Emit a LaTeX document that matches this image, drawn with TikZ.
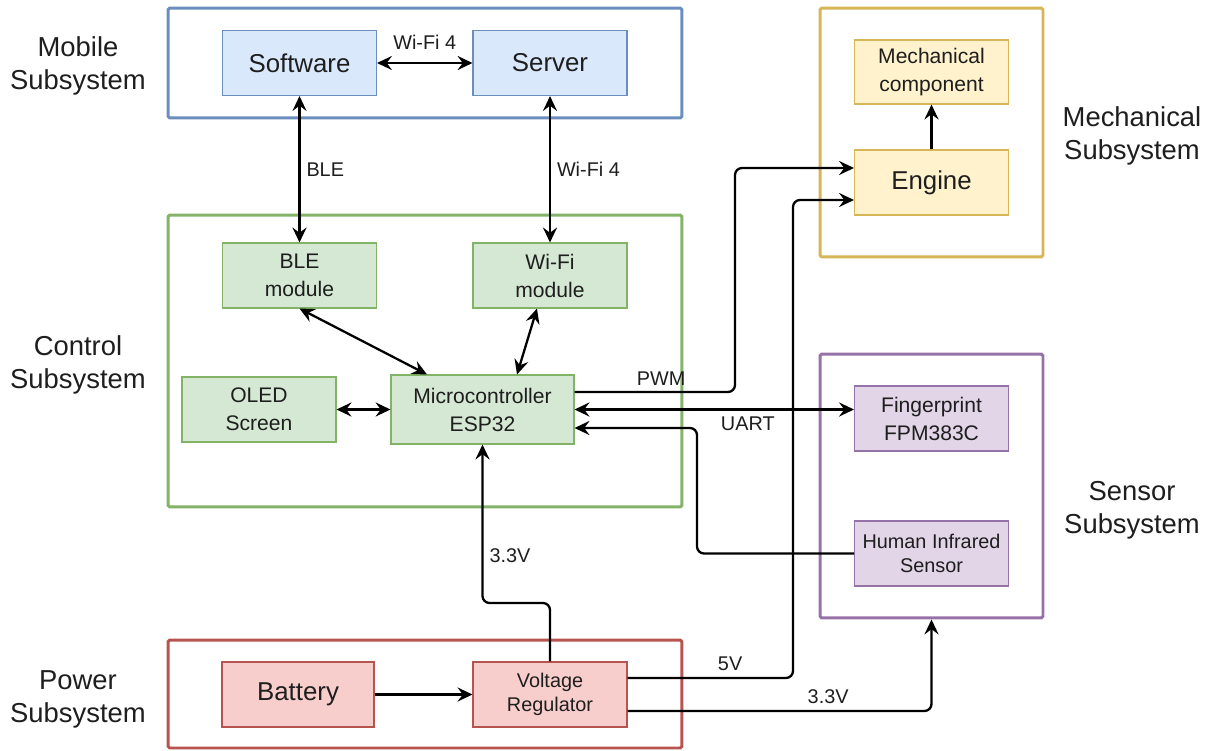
\documentclass[tikz,border=0pt]{standalone}
\usepackage{fontspec}
\setmainfont{Liberation Sans}
\usetikzlibrary{arrows.meta, calc}
\definecolor{txt}{RGB}{30,30,30}
\definecolor{blueF}{HTML}{DAE8FC}\definecolor{blueD}{HTML}{6C8EBF}
\definecolor{greenF}{HTML}{D5E8D4}\definecolor{greenD}{HTML}{82B366}
\definecolor{yelF}{HTML}{FFF2CC}\definecolor{yelD}{HTML}{D6B656}
\definecolor{redF}{HTML}{F8CECC}\definecolor{redD}{HTML}{B85450}
\definecolor{purF}{HTML}{E1D5E7}\definecolor{purD}{HTML}{9673A6}
\tikzset{
  box/.style={draw, line width=0.6pt, align=center, inner sep=0pt, text=txt,
    minimum width=3.08cm, minimum height=1.3cm},
  big/.style={font=\fontsize{14.7}{17.6}\selectfont},
  med/.style={font=\fontsize{12}{15.9}\selectfont},
  sml/.style={font=\fontsize{11.3}{13.4}\selectfont},
  mobbox/.style={box, big, fill=blueF, draw=blueD},
  ctlbox/.style={box, med, fill=greenF, draw=greenD},
  mechbox/.style={box, fill=yelF, draw=yelD},
  senbox/.style={box, fill=purF, draw=purD},
  pwrbox/.style={box, fill=redF, draw=redD},
  frame/.style={draw, line width=1.7pt, inner sep=0pt, rounded corners=1pt},
  sublabel/.style={align=center, text=txt, font=\fontsize{15.6}{18.7}\selectfont},
  elab/.style={text=txt, font=\fontsize{11.3}{13.4}\selectfont},
  wire/.style={line width=1.3pt, rounded corners=4pt},
}

\begin{document}
\begin{tikzpicture}[x=0.02cm, y=-0.02cm, >={Stealth[length=8.5pt, width=8pt, inset=3pt]}]
\useasboundingbox (0, 0) rectangle (1209, 750);

% subsystem frames
\node[frame, draw=blueD, minimum width=10.28cm, minimum height=2.2cm] at (425, 63) (mobile) {};
\node[frame, draw=greenD, minimum width=10.28cm, minimum height=5.84cm] at (425, 361) (control) {};
\node[frame, draw=redD, minimum width=10.28cm, minimum height=2.16cm] at (425, 694) (power) {};
\node[frame, draw=yelD, minimum width=4.46cm, minimum height=4.98cm] at (931.5, 132.5) (mech) {};
\node[frame, draw=purD, minimum width=4.46cm, minimum height=5.28cm] at (931.5, 486) (sensor) {};

\node[sublabel] at (78, 66)    (mobileL) {Mobile\\Subsystem};
\node[sublabel] at (78, 365)   (controlL) {Control\\Subsystem};
\node[sublabel] at (78, 699)   (powerL) {Power\\Subsystem};
\node[sublabel] at (1132, 136) (mechL) {Mechanical\\Subsystem};
\node[sublabel] at (1132, 510) (sensorL) {Sensor\\Subsystem};

% blocks
\node[mobbox] at (299.5, 63) (soft) {Software};
\node[mobbox] at (550, 63)   (serv) {Server};
\node[ctlbox] at (299.5, 275.5) (ble)  {BLE\\module};
\node[ctlbox] at (550, 275.5)   (wifi) {Wi-Fi\\module};
\node[ctlbox] at (259, 409.5)   (oled) {OLED\\Screen};
\node[ctlbox, minimum width=3.66cm, minimum height=1.38cm] at (482.5, 409.5) (mcu) {Microcontroller\\ESP32};
\node[mechbox, med, minimum height=1.28cm] at (931.5, 72) (mechc) {Mechanical\\component};
\node[mechbox, big] at (931.5, 182.5) (engine) {Engine};
\node[senbox, med] at (931.5, 418.5) (finger) {Fingerprint\\FPM383C};
\node[senbox, sml] at (931.5, 553.5) (infra) {Human Infrared\\Sensor};
\node[pwrbox, big, minimum width=3.04cm] at (298, 694.5) (batt) {Battery};
\node[pwrbox, sml] at (550, 694.5) (vreg) {Voltage\\Regulator};

\coordinate (pwmbend) at (735, 280);
\coordinate (irbend) at (697, 500);
\coordinate (vbend) at (515, 603);
\coordinate (fivebend) at (793, 400);

% links
\draw[wire, <->] (soft) -- node[elab, midway, yshift=12pt] {Wi-Fi 4} (serv);
\draw[wire, <->] (soft) -- node[elab, midway, right] {BLE} (ble);
\draw[wire, <->] (serv) -- node[elab, midway, right] {Wi-Fi 4} (wifi);
\draw[wire, <->] (ble.south) -- ([xshift=-1.11cm]mcu.north);
\draw[wire, <->] ([xshift=-0.26cm]wifi.south) -- ([xshift=0.69cm]mcu.north);
\draw[wire, <->] (oled) -- (mcu);
\draw[wire, ->] ([yshift=0.35cm]mcu.east) -| node[elab, pos=0.27, above] {PWM} (pwmbend)
    |- ([yshift=0.29cm]engine.west);
\draw[wire, <->] (mcu.east) -- node[elab, pos=0.62, below] {UART} (mcu.east -| finger.west);
\draw[wire, ->] (infra.west) -| (irbend) |- ([yshift=-0.37cm]mcu.east);
\draw[wire, ->] (engine) -- (mechc);
\draw[wire, ->] (batt) -- (vreg);
\draw[wire, ->] (vreg.north) |- (vbend) -| node[elab, pos=0.65, right] {3.3V} (mcu.south);
\draw[wire, ->] ([yshift=0.33cm]vreg.east) -| node[elab, pos=0.31, above] {5V} (fivebend)
    |- ([yshift=-0.35cm]engine.west);
\draw[wire, ->] ([yshift=-0.33cm]vreg.east) -| node[elab, pos=0.33, above] {3.3V} (sensor.south);
\end{tikzpicture}
\end{document}
